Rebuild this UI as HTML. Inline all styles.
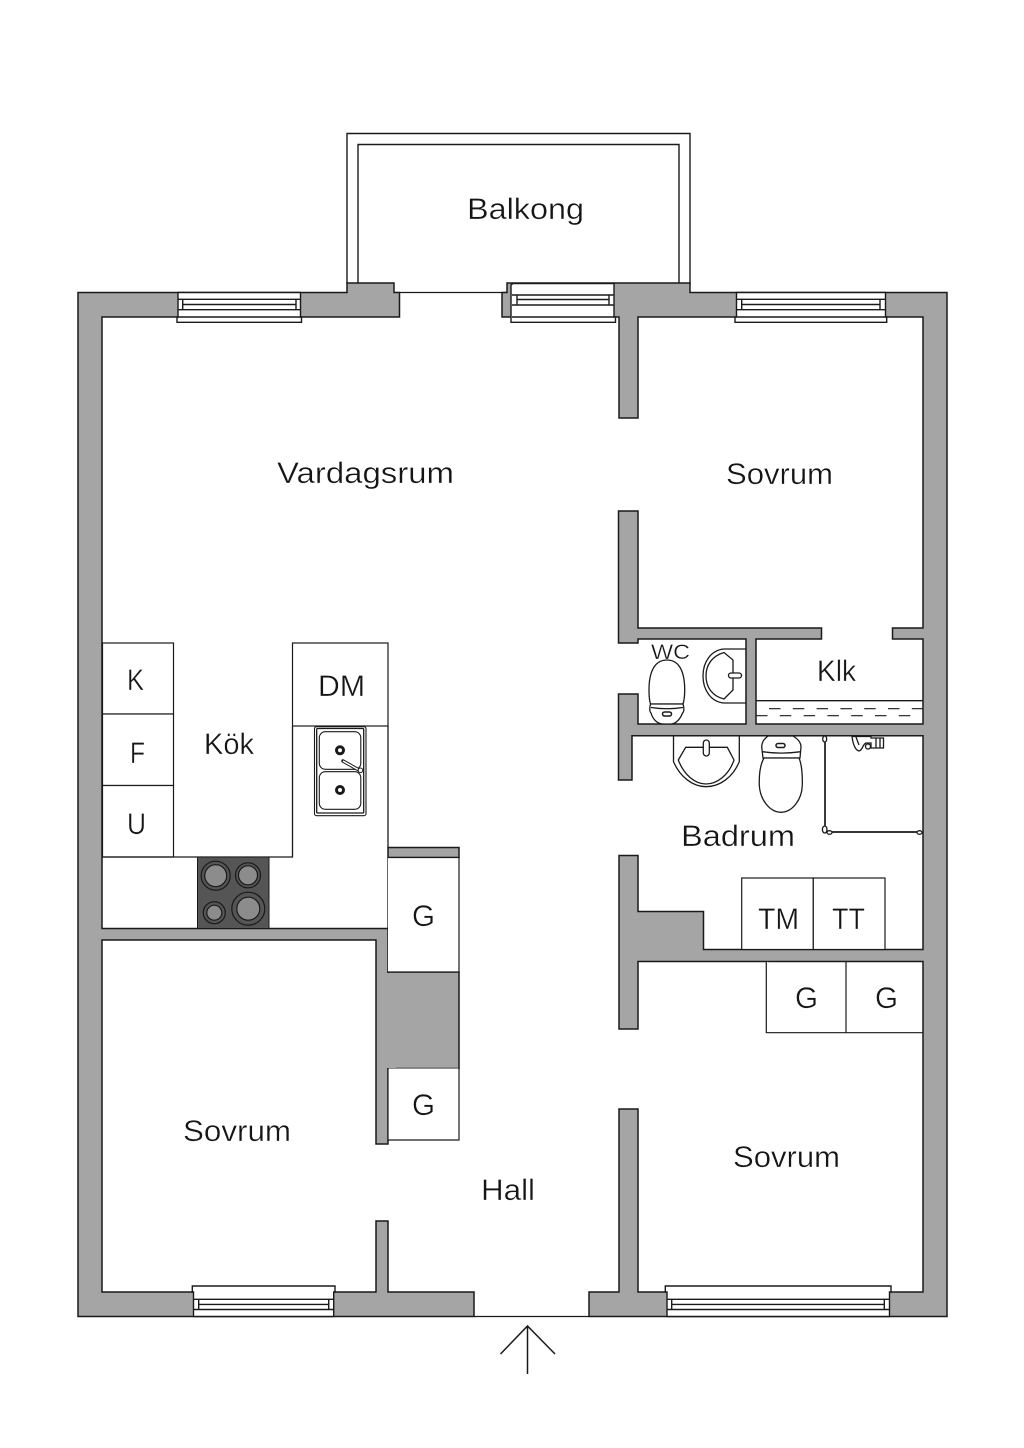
<!DOCTYPE html>
<html><head><meta charset="utf-8"><style>
html,body{margin:0;padding:0;background:#fff}
svg{display:block}
text{font-family:"Liberation Sans",sans-serif;font-size:30px;fill:#151515;stroke:#fff;stroke-width:.35px}
</style></head><body>
<svg xmlns="http://www.w3.org/2000/svg" width="1024" height="1448" viewBox="0 0 1024 1448">
<rect width="1024" height="1448" fill="#fff"/>
<g fill="none" stroke="#1a1a1a" stroke-width="1.5">
<!-- balcony -->
<path d="M347,284V133.500H690V284M358,284V144.500H679V284" stroke-width="1.4"/>
<path d="M394,292.500H507M474,1316.500H589" stroke-width="1.2"/>
<!-- walls -->
<g fill="#a5a5a5" stroke-width="1.5" stroke-linejoin="miter">
<path d="M78,292.500H347V283H394V292.500H399.500V317H102V928.500H388V1144H376V940H102V1292H376V1221H388V1292H474V1316.500H78Z"/>
<path d="M507,292.500V283H690V292.500H947V1316.500H589V1292H619V1109H638V1292H923V961.500H638V1029H619V855.500H638V911.500H703.500V949.500H923V735.700H632V780H618.500V694H638V724H746V639H638V643H618.500V511H638V628H821.500V639H756V724H923V639H892.500V628H923V317H638V418H619V317H502V292.500H507Z"/>
<rect x="388" y="847.500" width="71" height="10"/>
<rect x="388" y="972" width="71" height="96.500"/>
<rect x="380" y="973" width="16" height="95" stroke="none"/>
</g>
<!-- windows -->
<g fill="#fff" stroke-width="1.4">
<path d="M178,292.500H300.500V317H301.500V322.300H177V317H178Z"/>
<path d="M178,299.300H300.500M178,309.700H300.500M178,317H300.500M182.700,299.300V309.700M296,299.300V309.700M182.700,304.500H296"/>
<path d="M513,283.500H614V317H615.500V322.300H511V285L513,283.500Z"/>
<path d="M512,295H614M512,305H614M512,317H614M517,295V305M609,295V305M517,299.500H609"/>
<path d="M736.500,292.500H885.500V317H886.700V322.300H735V317H736.500Z"/>
<path d="M736.500,299.300H885.500M736.500,309.700H885.500M736.500,317H885.500M741.700,299.300V309.700M880,299.300V309.700M741.700,304.500H880"/>
<path d="M192.300,1286H335V1292H333.700V1316.500H193.500V1292H192.300Z"/>
<path d="M193.500,1299.300H333.700M193.500,1309.500H333.700M198.700,1299.300V1309.500M328.700,1299.300V1309.500M198.700,1304.400H328.700"/>
<path d="M665.300,1286H891V1292H889.500V1316.500H667V1292H665.300Z"/>
<path d="M667,1299.300H889.500M667,1309.500H889.500M671.700,1299.300V1309.500M884.300,1299.300V1309.500M671.700,1304.400H884.300"/>
</g>
<!-- kitchen -->
<g stroke-width="1.2" fill="#fff">
<rect x="102.500" y="643" width="71" height="71"/>
<rect x="102.500" y="714" width="71" height="71.500"/>
<rect x="102.500" y="785.500" width="71" height="71.500"/>
<rect x="292.500" y="643" width="95.500" height="83"/>
</g>
<path d="M102.500,857H292.500V726M388,726V847.500M388,857.500V928.500" stroke-width="1.3"/>
<rect x="197.500" y="857" width="71.500" height="71.500" fill="#555" stroke-width="1"/>
<g fill="#8c8c8c" stroke="#1a1a1a" stroke-width="1.2">
<circle cx="215.700" cy="875.700" r="14.500" fill="#555"/><circle cx="215.700" cy="875.700" r="11"/>
<circle cx="248" cy="875.300" r="12.500" fill="#555"/><circle cx="248" cy="875.300" r="9.500"/>
<circle cx="214.300" cy="912.700" r="11" fill="#555"/><circle cx="214.300" cy="912.700" r="7.500"/>
<circle cx="248.300" cy="908.700" r="16.500" fill="#555"/><circle cx="248.300" cy="908.700" r="11.500"/>
</g>
<!-- sink -->
<g stroke-width="1.1">
<rect x="314.500" y="726.700" width="51.500" height="89" rx="2"/>
<rect x="316.700" y="728.500" width="47" height="84.500" rx="1" stroke-width="1.3"/>
<rect x="319.300" y="731.700" width="41.500" height="37.600" rx="6"/>
<rect x="319.300" y="771.700" width="41.500" height="37.600" rx="6"/>
</g>
<circle cx="340" cy="750.300" r="3.500" fill="#fff" stroke-width="3"/>
<circle cx="340" cy="790" r="3.500" fill="#fff" stroke-width="3"/>
<path d="M343,761L358,769.500" stroke-width="3.500" stroke-linecap="round"/>
<path d="M343,761L358,769.500" stroke="#fff" stroke-width="1.500"/>
<circle cx="360.500" cy="770.300" r="2.300" fill="#fff" stroke-width="1"/>
<!-- closets -->
<g stroke-width="1.2" fill="#fff">
<path d="M388,857.500H459V972H388M388,1068.500V1140H459V1068.500"/>
<rect x="741.700" y="878" width="71.600" height="71.500"/>
<rect x="813.300" y="878" width="71.700" height="71.500"/>
<path d="M766.300,961.500V1032.700H923M846,961.500V1032.700"/>
</g>
<!-- WC toilet -->
<g stroke-width="1.300" fill="#fff">
<path d="M649,690C649,668 657,660 667,660C677,660 684.700,668 684.700,690C684.700,697 684,701 683,704H650.500C649.500,701 649,697 649,690Z"/>
<path d="M650.500,704H683C684.500,708 684,712 682.500,713C680,720 675,724 671,724H663C658,724 653,720 651,713C649.500,712 649.500,708 650.500,704Z"/>
<path d="M651,707.500Q667,710 683,707.500"/>
<rect x="662.500" y="712" width="9" height="4" rx="2" stroke-width="1.500"/>
<!-- WC sink -->
<path d="M745.500,649H724C711,650 703,662 703,676C703,690 711,702 724,703H745.500" fill="none"/>
<path d="M724,652.500L733,660V690L724,699C712,696 706,687 706,676C706,665 712,656 724,652.500Z"/>
<rect x="728.500" y="673" width="13" height="5" rx="2.500"/>
<!-- Bath sink -->
<path d="M673.500,736V761.700C680,777 693,786.700 706,786.700C720,786.700 733,777 739.300,761.700V736" fill="none"/>
<path d="M678.300,760L685.700,747.300H727.300L734,760C729,775 717,784 706,784C695,784 684,775 678.300,760Z"/>
<rect x="703.300" y="740" width="6" height="16" rx="3"/>
<!-- Bath toilet -->
<path d="M768,736C763,740 761.700,743 761.700,747L763,758H800L801,747C801,743 798,739 793,736Z"/>
<path d="M764,758C760,765 759,775 759.300,785C760,800 770,812.300 781,812.300C792,812.300 802,800 802.300,785C802.500,775 802,765 799,758Z"/>
<path d="M762,751.700Q781,754.500 801,751.700"/>
<rect x="776" y="743.500" width="9" height="4" rx="2" stroke-width="1.500"/>
</g>
<!-- shower -->
<path d="M825,737V832H921" stroke-width="1.700"/>
<g fill="#fff" stroke-width="1.300">
<ellipse cx="824.700" cy="739" rx="2" ry="3"/>
<ellipse cx="824.700" cy="829.500" rx="2.300" ry="3.500"/>
<ellipse cx="829.500" cy="832.500" rx="2.500" ry="1.800"/>
<ellipse cx="919.500" cy="832.500" rx="2.500" ry="1.800"/>
<path d="M852,736.500C853,744 855,750 859,751C863,750 862,745 866,743H871V748H883.500V738H871V736.500Z"/>
<circle cx="868" cy="746.500" r="2.500"/>
<path d="M856,737L859,745M876,738V748M880,738V748"/>
</g>
<!-- klk -->
<path d="M756,700.700H923" stroke-width="1.300"/>
<path d="M769,708.700H923M756,715.700H923" stroke-width="1.100" stroke-dasharray="11.500,12.300"/>
<path d="M923,700.700V724" stroke-width="1" stroke-dasharray="2,2"/>
<!-- arrow -->
<path d="M527.500,1374V1326M500.500,1354L527.500,1326L555,1354" stroke-width="1.500"/>
</g>
<!-- labels -->
<text x="467" y="219" textLength="117" lengthAdjust="spacingAndGlyphs">Balkong</text>
<text x="277" y="483" textLength="177" lengthAdjust="spacingAndGlyphs">Vardagsrum</text>
<text x="726" y="484" textLength="107" lengthAdjust="spacingAndGlyphs">Sovrum</text>
<text x="651" y="659" textLength="39" lengthAdjust="spacingAndGlyphs" style="font-size:21px">WC</text>
<text x="817" y="681" textLength="39" lengthAdjust="spacingAndGlyphs">Klk</text>
<text x="204" y="754" textLength="50" lengthAdjust="spacingAndGlyphs">Kök</text>
<text x="318" y="696" textLength="47" lengthAdjust="spacingAndGlyphs">DM</text>
<text x="127" y="690" textLength="17" lengthAdjust="spacingAndGlyphs">K</text>
<text x="130" y="763" textLength="15" lengthAdjust="spacingAndGlyphs">F</text>
<text x="127" y="834" textLength="19" lengthAdjust="spacingAndGlyphs">U</text>
<text x="412" y="926" textLength="23" lengthAdjust="spacingAndGlyphs">G</text>
<text x="412" y="1115" textLength="23" lengthAdjust="spacingAndGlyphs">G</text>
<text x="758" y="929" textLength="41" lengthAdjust="spacingAndGlyphs">TM</text>
<text x="832" y="929" textLength="33" lengthAdjust="spacingAndGlyphs">TT</text>
<text x="795" y="1008" textLength="23" lengthAdjust="spacingAndGlyphs">G</text>
<text x="875" y="1008" textLength="23" lengthAdjust="spacingAndGlyphs">G</text>
<text x="681" y="846" textLength="114" lengthAdjust="spacingAndGlyphs">Badrum</text>
<text x="183" y="1141" textLength="108" lengthAdjust="spacingAndGlyphs">Sovrum</text>
<text x="481" y="1200" textLength="54" lengthAdjust="spacingAndGlyphs">Hall</text>
<text x="733" y="1167" textLength="107" lengthAdjust="spacingAndGlyphs">Sovrum</text>
</svg>
</body></html>
